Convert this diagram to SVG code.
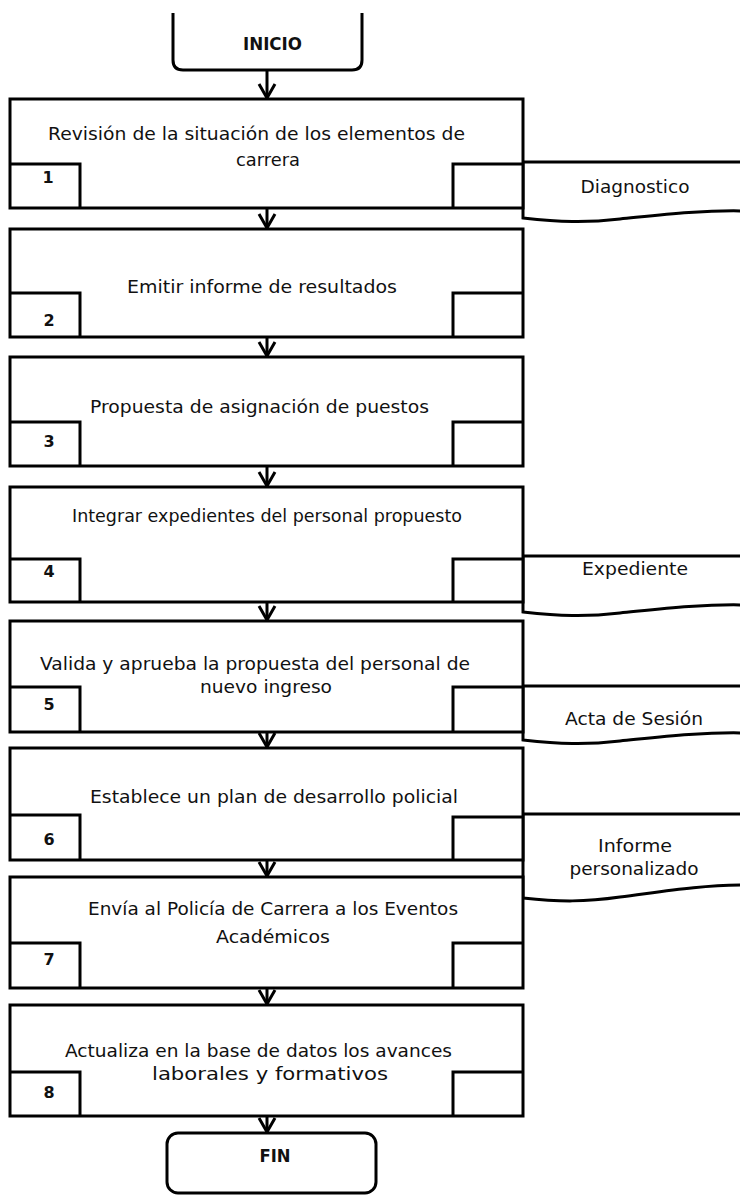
<svg xmlns="http://www.w3.org/2000/svg" width="740" height="1196" viewBox="0 0 740 1196">
  <style>
    .ln { fill: none; stroke: #000; stroke-width: 3; stroke-linejoin: miter; }
    .bx { fill: #fff; stroke: #000; stroke-width: 3; }
    .tx { font-family: "DejaVu Sans", "Liberation Sans", sans-serif; font-size: 17px; fill: #111; text-anchor: middle; }
    .num { font-family: "DejaVu Sans", "Liberation Sans", sans-serif; font-size: 16px; font-weight: bold; fill: #111; text-anchor: middle; }
    .term { font-family: "DejaVu Sans", "Liberation Sans", sans-serif; font-size: 17px; font-weight: bold; fill: #111; text-anchor: middle; }
  </style>
  <defs>
    <marker id="arrow" viewBox="0 0 16 20" refX="15" refY="10" markerWidth="16" markerHeight="20" markerUnits="userSpaceOnUse" orient="auto">
      <path d="M1,2 L15,10 L1,18" fill="none" stroke="#000" stroke-width="3"/>
    </marker>
  </defs>
  <rect width="740" height="1196" fill="#fff"/>

  <!-- documents (drawn first so process boxes sit above them) -->
  <g id="doc-diagnostico">
    <path class="bx" d="M523,162 H745 V211 C700,210 660,215 620,219 C585,223 560,222 523,218 Z"/>
    <text class="tx" x="635" y="193" textLength="109" lengthAdjust="spacingAndGlyphs">Diagnostico</text>
  </g>
  <g id="doc-expediente">
    <path class="bx" d="M523,556 H745 V605 C700,604 660,609 620,613 C585,617 560,616 523,612 Z"/>
    <text class="tx" x="635" y="575" textLength="106" lengthAdjust="spacingAndGlyphs">Expediente</text>
  </g>
  <g id="doc-acta">
    <path class="bx" d="M523,686 H745 V733 C700,732 660,737 620,741 C585,745 560,744 523,740 Z"/>
    <text class="tx" x="634" y="725" textLength="138" lengthAdjust="spacingAndGlyphs">Acta de Sesión</text>
  </g>
  <g id="doc-informe">
    <path class="bx" d="M523,814 H745 V885 C700,885 660,892 620,897 C585,902 560,902 523,898 Z"/>
    <text class="tx" x="635" y="852" textLength="74" lengthAdjust="spacingAndGlyphs">Informe</text>
    <text class="tx" x="634" y="875" textLength="129" lengthAdjust="spacingAndGlyphs">personalizado</text>
  </g>

  <!-- connectors -->
  <g id="connectors" class="ln">
    <line x1="267" y1="70" x2="267" y2="98" marker-end="url(#arrow)"/>
    <line x1="267" y1="208" x2="267" y2="228" marker-end="url(#arrow)"/>
    <line x1="267" y1="337" x2="267" y2="356" marker-end="url(#arrow)"/>
    <line x1="267" y1="466" x2="267" y2="486" marker-end="url(#arrow)"/>
    <line x1="267" y1="602" x2="267" y2="620" marker-end="url(#arrow)"/>
    <line x1="267" y1="732" x2="267" y2="747" marker-end="url(#arrow)"/>
    <line x1="267" y1="860" x2="267" y2="876" marker-end="url(#arrow)"/>
    <line x1="267" y1="988" x2="267" y2="1004" marker-end="url(#arrow)"/>
    <line x1="267" y1="1116" x2="267" y2="1132" marker-end="url(#arrow)"/>
  </g>

  <!-- terminators -->
  <g id="inicio">
    <path class="ln" d="M173,13 V60 Q173,70 183,70 H352 Q362,70 362,60 V13"/>
    <text class="term" x="272.5" y="50" textLength="59" lengthAdjust="spacingAndGlyphs">INICIO</text>
  </g>
  <g id="fin">
    <rect class="bx" x="167" y="1133" width="209" height="60" rx="11"/>
    <text class="term" x="275" y="1162" textLength="31" lengthAdjust="spacingAndGlyphs">FIN</text>
  </g>

  <!-- process steps -->
  <g id="step1">
    <rect class="bx" x="10" y="99" width="513" height="109"/>
    <path class="ln" d="M10,164 H80 V208 M453,208 V164 H523"/>
    <text class="tx" x="256.5" y="140" textLength="417" lengthAdjust="spacingAndGlyphs">Revisión de la situación de los elementos de</text>
    <text class="tx" x="268" y="166" textLength="64" lengthAdjust="spacingAndGlyphs">carrera</text>
    <text class="num" x="48" y="183">1</text>
  </g>
  <g id="step2">
    <rect class="bx" x="10" y="229" width="513" height="108"/>
    <path class="ln" d="M10,293 H80 V337 M453,337 V293 H523"/>
    <text class="tx" x="262" y="293" textLength="270" lengthAdjust="spacingAndGlyphs">Emitir informe de resultados</text>
    <text class="num" x="49" y="326">2</text>
  </g>
  <g id="step3">
    <rect class="bx" x="10" y="357" width="513" height="109"/>
    <path class="ln" d="M10,422 H80 V466 M453,466 V422 H523"/>
    <text class="tx" x="259.5" y="413" textLength="339" lengthAdjust="spacingAndGlyphs">Propuesta de asignación de puestos</text>
    <text class="num" x="49" y="447">3</text>
  </g>
  <g id="step4">
    <rect class="bx" x="10" y="487" width="513" height="115"/>
    <path class="ln" d="M10,559 H80 V602 M453,602 V559 H523"/>
    <text class="tx" x="267" y="522" textLength="390" lengthAdjust="spacingAndGlyphs">Integrar expedientes del personal propuesto</text>
    <text class="num" x="49" y="577">4</text>
  </g>
  <g id="step5">
    <rect class="bx" x="10" y="621" width="513" height="111"/>
    <path class="ln" d="M10,687 H80 V732 M453,732 V687 H523"/>
    <text class="tx" x="255" y="670" textLength="430" lengthAdjust="spacingAndGlyphs">Valida y aprueba la propuesta del personal de</text>
    <text class="tx" x="266" y="693" textLength="132" lengthAdjust="spacingAndGlyphs">nuevo ingreso</text>
    <text class="num" x="49" y="710">5</text>
  </g>
  <g id="step6">
    <rect class="bx" x="10" y="748" width="513" height="112"/>
    <path class="ln" d="M10,815 H80 V860 M453,860 V817 H523"/>
    <text class="tx" x="274" y="803" textLength="368" lengthAdjust="spacingAndGlyphs">Establece un plan de desarrollo policial</text>
    <text class="num" x="49" y="845">6</text>
  </g>
  <g id="step7">
    <rect class="bx" x="10" y="877" width="513" height="111"/>
    <path class="ln" d="M10,943 H80 V988 M453,988 V943 H523"/>
    <text class="tx" x="273" y="915" textLength="370" lengthAdjust="spacingAndGlyphs">Envía al Policía de Carrera a los Eventos</text>
    <text class="tx" x="273" y="943" textLength="114" lengthAdjust="spacingAndGlyphs">Académicos</text>
    <text class="num" x="49" y="965">7</text>
  </g>
  <g id="step8">
    <rect class="bx" x="10" y="1005" width="513" height="111"/>
    <path class="ln" d="M10,1072 H80 V1116 M453,1116 V1072 H523"/>
    <text class="tx" x="258.5" y="1057" textLength="387" lengthAdjust="spacingAndGlyphs">Actualiza en la base de datos los avances</text>
    <text class="tx" x="270" y="1080" textLength="236" lengthAdjust="spacingAndGlyphs">laborales y formativos</text>
    <text class="num" x="49" y="1098">8</text>
  </g>
</svg>
